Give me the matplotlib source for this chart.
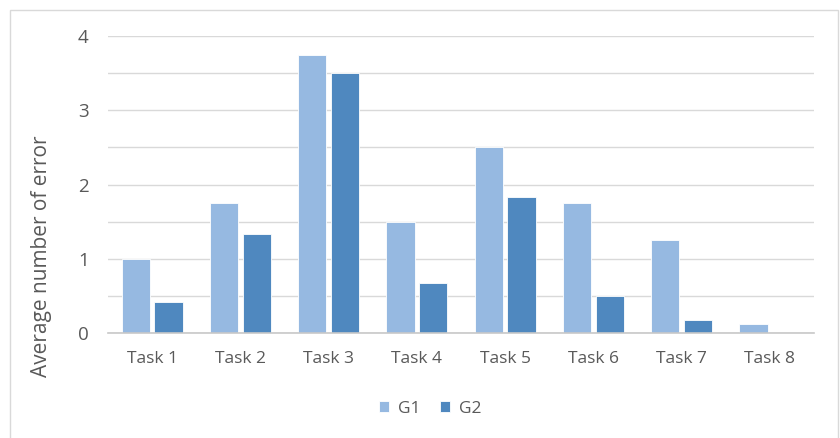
import numpy as np
import matplotlib
matplotlib.use("Agg")
import matplotlib.pyplot as plt
import matplotlib.patches as mpatches

tasks = ["Task 1", "Task 2", "Task 3", "Task 4", "Task 5", "Task 6", "Task 7", "Task 8"]
g1 = [1.0, 1.75, 3.75, 1.5, 2.5, 1.75, 1.25, 0.125]
g2 = [0.42, 1.33, 3.5, 0.67, 1.83, 0.5, 0.17, 0.0]
yticks = [0, 1, 2, 3, 4]

c_g1 = "#96b9e1"
c_g2 = "#4f88bf"
txt = "#595959"

plt.rcParams["font.family"] = ["Open Sans", "DejaVu Sans"]

fig = plt.figure(figsize=(8.4, 4.38), dpi=100)
W, H = 840, 438
# outer chart border
fig.patches.append(mpatches.Rectangle((10 / W, -0.1), 828 / W, 1 - 10 / H + 0.1,
                                      transform=fig.transFigure, fill=False,
                                      edgecolor="#d9d9d9", linewidth=1.0))

ax = fig.add_axes([108 / W, 1 - 333 / H, (814 - 108) / W, (333 - 36) / H])

x = np.arange(len(tasks))
bw = 0.32
ax.bar(x - bw / 2 - 0.025, g1, bw, color=c_g1, edgecolor="white", linewidth=0.6, label="G1", zorder=3)
ax.bar(x + bw / 2 + 0.025, g2, bw, color=c_g2, edgecolor="white", linewidth=0.6, label="G2", zorder=3)

ax.set_xlim(-0.5, len(tasks) - 0.5)
ax.set_ylim(0, 4)
ax.set_yticks(yticks)
ax.set_yticks(np.arange(0.5, 4, 1), minor=True)
ax.set_xticks(x)
ax.set_xticklabels(tasks)
ax.grid(axis="y", which="both", color="#d9d9d9", linewidth=1.0, zorder=0)
for s in ["top", "right", "left"]:
    ax.spines[s].set_visible(False)
ax.spines["bottom"].set_color("#c8c8c8")
ax.spines["bottom"].set_linewidth(1.2)
ax.spines["bottom"].set_zorder(4)
ax.tick_params(axis="x", which="both", length=0, colors=txt, labelsize=12.5, pad=13)
ax.tick_params(axis="y", which="both", length=0, colors=txt, labelsize=13.5, pad=14)
ax.set_ylabel("Average number of error", color=txt, fontsize=15)
ax.yaxis.set_label_coords(-0.079, 0.26)

ax.legend(loc="center", bbox_to_anchor=(0.512, 1 - 409 / H), bbox_transform=fig.transFigure,
          ncol=2, frameon=False, fontsize=12.5, labelcolor=txt,
          handlelength=0.6, handleheight=0.6, handletextpad=0.5, columnspacing=1.1)

fig.savefig("out.png", dpi=100)
